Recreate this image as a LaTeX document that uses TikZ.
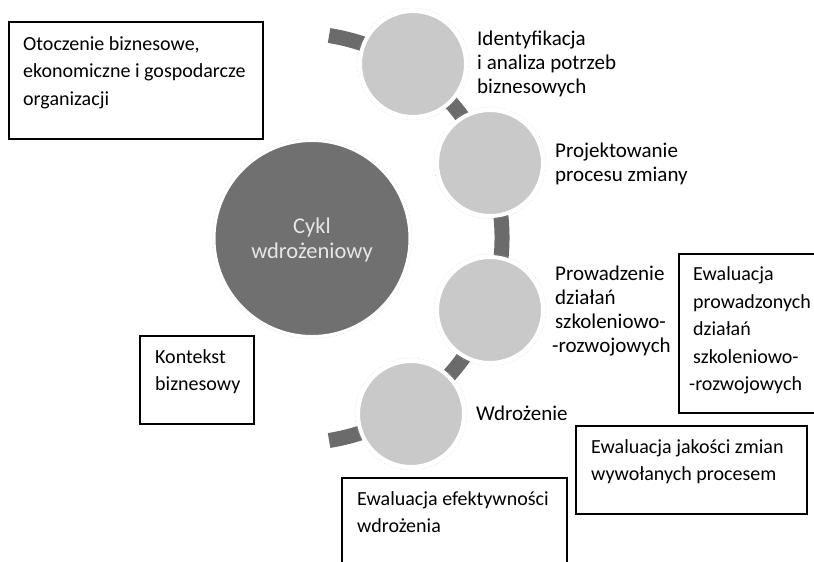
\documentclass[tikz,border=0pt]{standalone}
\usepackage{fontspec}
\setmainfont{Carlito}
\usetikzlibrary{calc}

\definecolor{bandgray}{HTML}{6B6B6B}
\definecolor{hubgray}{HTML}{707070}
\definecolor{stepgray}{HTML}{C9C9C9}
\definecolor{hubtext}{HTML}{E6E6E6}

\tikzset{
  band/.style={draw=bandgray, line width=15pt, line cap=butt},
  stepdisc/.style={circle, fill=stepgray, draw=white, line width=4pt, minimum size=106pt, inner sep=0pt},
  hubdisc/.style={circle, fill=hubgray, draw=white, line width=3pt, minimum size=196pt, inner sep=0pt},
  halo/.style={draw=black!25, dotted, line width=0.4pt},
  frame/.style={draw=black, line width=1.1pt},
  boxtxt/.style={anchor=north west, inner sep=0pt, align=left, font=\fontsize{20}{27.5}\selectfont},
  circtxt/.style={anchor=north west, inner sep=0pt, align=left, font=\fontsize{21}{24}\selectfont},
  hubtxt/.style={anchor=north, inner sep=0pt, align=center, text=hubtext, font=\fontsize{22.5}{25}\selectfont},
}

\begin{document}
\begin{tikzpicture}[x=1pt, y=-1pt]
  \useasboundingbox[fill=white] (0,0) rectangle (814,562);

  % centre of the arc that links the steps
  \coordinate (ac) at (297,238);
  \draw[band] ($(ac)+(-81:205)$) arc[start angle=-81, end angle=81, radius=205];

  % central disc
  \node[hubdisc] (hub) at (312,238.5) {};
  \draw[halo] (hub.center) circle[radius=100];
  \node[hubtxt] (hubt) at (312,215.8) {\strut Cykl\\wdrożeniowy};

  % the four steps of the cycle
  \node[stepdisc] (s1) at (413,64) {};
  \node[stepdisc] (s2) at (490,163) {};
  \node[stepdisc] (s3) at (490,310) {};
  \node[stepdisc] (s4) at (411,414) {};
  \foreach \s in {s1,s2,s3,s4} \draw[halo] (\s.center) circle[radius=56];

  \node[circtxt] (t1) at (477,28.9) {\strut Identyfikacja\\i analiza potrzeb\\biznesowych};
  \node[circtxt] (t2) at (555,140.9) {\strut Projektowanie\\procesu zmiany};
  \node[circtxt] (t3) at (555,263.9) {\strut Prowadzenie\\działań\\szkoleniowo-\\\hspace*{-3pt}-rozwojowych};
  \node[circtxt] (t4) at (476,403.2) {\strut Wdrożenie};

  % framed notes
  \draw[frame] (9,22) rectangle (263,139);
  \node[boxtxt] (b1) at (23,30.75) {\strut Otoczenie biznesowe,\\ekonomiczne i gospodarcze\\organizacji};

  \draw[frame] (815,254) -- (679,254) -- (679,413) -- (815,413);
  \node[boxtxt] (b2) at (693,261.5) {\strut Ewaluacja\\prowadzonych\\działań\\szkoleniowo-\\\hspace*{-4pt}-rozwojowych};

  \draw[frame] (576,426) rectangle (807,514);
  \node[boxtxt] (b3) at (591,434) {\strut Ewaluacja jakości zmian\\wywołanych procesem};

  \draw[frame] (342,563) -- (342,478) -- (567,478) -- (567,563);
  \node[boxtxt] (b4) at (357,485.75) {\strut Ewaluacja efektywności\\wdrożenia};

  \draw[frame] (140,336) rectangle (254,424);
  \node[boxtxt] (b5) at (155,344) {\strut Kontekst\\biznesowy};
\end{tikzpicture}
\end{document}
